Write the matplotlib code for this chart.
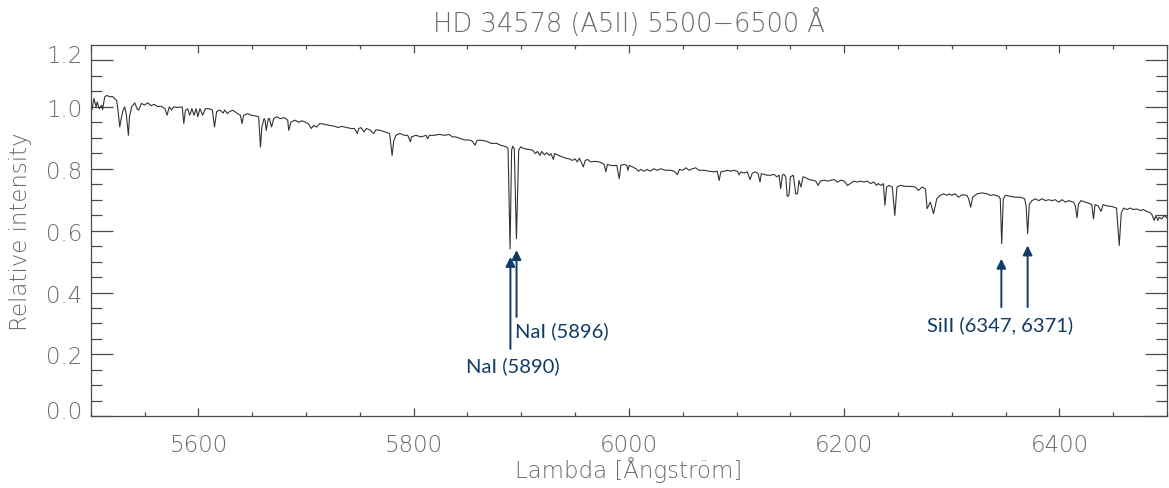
import matplotlib.pyplot as plt
from matplotlib.ticker import FixedLocator, MultipleLocator
from matplotlib.transforms import ScaledTranslation

# HD 34578 spectrum, wavelength in Angstrom and normalised intensity
wavelength = [
    5500, 5501, 5503, 5505, 5506, 5508, 5510, 5511, 5513, 5515, 5518, 5520, 5522, 5524, 5525,
    5527, 5528, 5530, 5531.5, 5533, 5535, 5536, 5538, 5541, 5543, 5544.5, 5547, 5550, 5553, 5556,
    5559, 5562, 5565.5, 5569, 5571, 5573, 5575, 5577, 5581, 5585, 5586.5, 5588, 5590, 5592, 5594,
    5596, 5598, 5599.5, 5601.5, 5604, 5606.5, 5610, 5613, 5615, 5617, 5620, 5623, 5624.5, 5627, 5629,
    5632, 5636.5, 5639, 5640.6, 5642, 5646, 5649, 5654, 5656, 5657.7, 5659, 5661, 5662, 5663, 5665,
    5666, 5668, 5670, 5672.7, 5676, 5680, 5683, 5684, 5686, 5690, 5693, 5696, 5699, 5702, 5705,
    5707, 5710, 5712.7, 5717, 5722, 5727, 5730, 5733, 5738, 5742, 5745, 5747.7, 5749, 5751, 5754,
    5756, 5759, 5763, 5765, 5769, 5773.5, 5777.7, 5780, 5781.5, 5783.5, 5787, 5791.5, 5794.5, 5797, 5798,
    5802, 5807, 5811.5, 5813, 5814.6, 5819, 5824, 5828.5, 5833, 5836, 5839, 5844, 5847, 5851.5, 5854.6,
    5857, 5859, 5863, 5867.5, 5872, 5877, 5881, 5886, 5887.7, 5889.6, 5891, 5892, 5893.5, 5895.5, 5897.6,
    5899.5, 5902.5, 5906, 5910.5, 5913, 5915, 5917.4, 5919, 5921.5, 5923.6, 5926, 5927.6, 5929.8, 5931, 5934.6,
    5938.3, 5941.4, 5944.5, 5947.5, 5950, 5952, 5954, 5957.6, 5959.5, 5961.6, 5964.7, 5968, 5972.5, 5975.6, 5977,
    5978.6, 5980, 5983, 5986, 5988.7, 5991, 5992.5, 5995.6, 5998, 5999, 6000.3, 6003.4, 6006.5, 6009, 6011,
    6014, 6017, 6020, 6023, 6026.4, 6029.5, 6034, 6039, 6042, 6045, 6047, 6050, 6053, 6056, 6059,
    6062, 6065, 6070, 6074.5, 6079, 6082, 6083.8, 6085.4, 6088.5, 6091.6, 6094.7, 6097.7, 6100.8, 6102.3, 6104,
    6107, 6110, 6112.5, 6114.7, 6117.8, 6120, 6121.8, 6123, 6125.5, 6128.6, 6131.7, 6134.8, 6137.3, 6139.5, 6141,
    6142.6, 6144, 6145.7, 6147, 6148.7, 6150, 6152.7, 6155, 6156.6, 6158, 6159.8, 6161.8, 6164.3, 6167.4, 6170.5,
    6173.6, 6175.8, 6177.7, 6181.4, 6184.5, 6187.6, 6190.7, 6193.8, 6196.9, 6200, 6203, 6205.5, 6209, 6212.2, 6215.3,
    6218.4, 6221.5, 6224.6, 6227.7, 6230, 6231.4, 6234.5, 6236.4, 6237.8, 6239.4, 6241.6, 6244.7, 6247, 6249, 6252,
    6257, 6261.6, 6266, 6269, 6272.4, 6275.5, 6277, 6280, 6283, 6286, 6289, 6292.4, 6295.5, 6297, 6300,
    6303, 6306.3, 6309.4, 6314, 6315.6, 6317.5, 6319.4, 6323.4, 6328, 6332.7, 6335.8, 6339, 6343.5, 6345, 6346.3,
    6347.8, 6349.7, 6354.3, 6359, 6363.6, 6367.6, 6369, 6370.4, 6372, 6374.5, 6377.6, 6380.7, 6383.8, 6386.9, 6390,
    6393, 6396, 6399.3, 6402.4, 6405.5, 6408.6, 6413, 6414.8, 6416.2, 6417.7, 6420, 6423.8, 6427, 6430, 6431.6,
    6433, 6436, 6438.6, 6440.5, 6444, 6448.5, 6453, 6455.5, 6457.4, 6459.6, 6462.6, 6465.7, 6468.8, 6471.9, 6475,
    6478, 6481, 6484, 6486, 6488, 6489.5, 6491.4, 6492.6, 6495, 6497.6, 6500,
]
intensity = [
    1.037, 0.989, 1.027, 1.000, 1.016, 0.994, 1.005, 0.991, 1.032, 1.037, 1.032, 1.034, 1.027, 1.021, 1.000,
    0.935, 0.957, 0.989, 1.000, 0.978, 0.908, 0.968, 1.000, 1.013, 0.994, 0.989, 1.011, 1.006, 1.013, 1.004,
    1.008, 1.001, 1.002, 0.994, 0.973, 1.000, 0.990, 1.000, 0.998, 1.000, 0.946, 0.989, 0.994, 0.973, 0.994,
    0.973, 0.994, 0.968, 0.994, 0.973, 0.994, 0.994, 0.990, 0.935, 0.985, 0.990, 0.980, 0.990, 0.978, 0.985,
    0.989, 0.978, 0.973, 0.946, 0.973, 0.978, 0.973, 0.970, 0.968, 0.870, 0.935, 0.962, 0.957, 0.924, 0.962,
    0.962, 0.935, 0.962, 0.968, 0.962, 0.965, 0.957, 0.924, 0.951, 0.957, 0.950, 0.955, 0.951, 0.946, 0.930,
    0.940, 0.935, 0.946, 0.944, 0.940, 0.937, 0.933, 0.937, 0.933, 0.930, 0.930, 0.914, 0.930, 0.933, 0.919,
    0.930, 0.926, 0.914, 0.926, 0.924, 0.919, 0.914, 0.843, 0.890, 0.908, 0.914, 0.908, 0.908, 0.887, 0.903,
    0.908, 0.903, 0.908, 0.897, 0.908, 0.908, 0.911, 0.908, 0.911, 0.903, 0.903, 0.897, 0.893, 0.893, 0.889,
    0.876, 0.892, 0.892, 0.889, 0.882, 0.882, 0.876, 0.871, 0.865, 0.541, 0.860, 0.873, 0.865, 0.574, 0.860,
    0.871, 0.865, 0.863, 0.860, 0.849, 0.856, 0.843, 0.856, 0.845, 0.852, 0.843, 0.849, 0.830, 0.849, 0.843,
    0.838, 0.834, 0.832, 0.827, 0.832, 0.822, 0.834, 0.806, 0.827, 0.830, 0.822, 0.824, 0.822, 0.817, 0.814,
    0.790, 0.814, 0.811, 0.810, 0.811, 0.768, 0.811, 0.814, 0.811, 0.795, 0.811, 0.806, 0.800, 0.792, 0.798,
    0.792, 0.798, 0.792, 0.800, 0.795, 0.800, 0.795, 0.795, 0.792, 0.781, 0.798, 0.795, 0.803, 0.795, 0.800,
    0.803, 0.795, 0.795, 0.792, 0.790, 0.792, 0.762, 0.790, 0.792, 0.795, 0.792, 0.795, 0.792, 0.780, 0.790,
    0.786, 0.790, 0.765, 0.786, 0.790, 0.784, 0.757, 0.784, 0.782, 0.779, 0.779, 0.782, 0.774, 0.779, 0.736,
    0.779, 0.782, 0.774, 0.711, 0.714, 0.774, 0.779, 0.719, 0.719, 0.762, 0.741, 0.774, 0.771, 0.765, 0.763,
    0.760, 0.746, 0.760, 0.763, 0.760, 0.763, 0.765, 0.757, 0.763, 0.760, 0.746, 0.752, 0.760, 0.757, 0.760,
    0.757, 0.760, 0.752, 0.757, 0.746, 0.752, 0.746, 0.752, 0.682, 0.741, 0.746, 0.741, 0.649, 0.741, 0.746,
    0.743, 0.743, 0.741, 0.730, 0.741, 0.735, 0.671, 0.692, 0.655, 0.703, 0.714, 0.719, 0.714, 0.719, 0.714,
    0.719, 0.708, 0.716, 0.714, 0.703, 0.676, 0.708, 0.719, 0.722, 0.719, 0.714, 0.716, 0.711, 0.703, 0.558,
    0.703, 0.714, 0.711, 0.708, 0.708, 0.703, 0.680, 0.590, 0.686, 0.697, 0.703, 0.697, 0.703, 0.697, 0.700,
    0.697, 0.700, 0.692, 0.700, 0.692, 0.697, 0.692, 0.680, 0.641, 0.686, 0.697, 0.692, 0.689, 0.684, 0.638,
    0.684, 0.680, 0.662, 0.684, 0.680, 0.678, 0.673, 0.552, 0.657, 0.673, 0.668, 0.673, 0.668, 0.670, 0.665,
    0.668, 0.662, 0.659, 0.651, 0.633, 0.649, 0.633, 0.643, 0.638, 0.649, 0.641,
]

# axis ticks
ytick_values = [0.0, 0.2, 0.4, 0.6, 0.8, 1.0, 1.15]
ytick_labels = ['0.0', '0.2', '0.4', '0.6', '0.8', '1.0', '1.2']
ytick_minor = [0.05, 0.1, 0.15, 0.25, 0.3, 0.35, 0.45, 0.5, 0.55, 0.65, 0.7, 0.75,
               0.85, 0.9, 0.95, 1.05, 1.1]

# line identifications: arrow x, arrow tip y, arrow tail y
arrows = [
    (5889.9, 0.515, 0.218),
    (5895.6, 0.537, 0.321),
    (6346.0, 0.509, 0.353),
    (6370.4, 0.552, 0.353),
]
labels = [
    ('NaI (5896)', 5894.5, 0.279, 'left'),
    ('NaI (5890)', 5892.5, 0.166, 'center'),
    ('SiII (6347, 6371)', 6344.6, 0.299, 'center'),
]

grey = '#6a6a6a'
axis_col = '#4a4a4a'
navy = '#0f3b66'

plt.rcParams['font.family'] = ['DejaVu Sans']
plt.rcParams['font.weight'] = 'light'
plt.rcParams['axes.titleweight'] = 'light'
plt.rcParams['axes.labelweight'] = 'light'

fig = plt.figure(figsize=(11.69, 4.89), dpi=100)
ax = fig.add_axes([0.0776, 0.1466, 0.9208, 0.7594])

ax.plot(wavelength, intensity, color='#333333', lw=0.8)

for x, tip, tail in arrows:
    ax.annotate('', xy=(x, tip), xytext=(x, tail),
                arrowprops=dict(arrowstyle='-|>', color=navy, lw=1.4,
                                mutation_scale=14, shrinkA=0, shrinkB=0))
for text, x, y, ha in labels:
    ax.text(x, y, text, color=navy, fontsize=14.5, ha=ha, va='center',
            family=['Lato', 'DejaVu Sans'], fontweight='normal')

ax.set_xlim(5500, 6500)
ax.set_ylim(0, 1.2)
ax.xaxis.set_major_locator(FixedLocator([5600, 5800, 6000, 6200, 6400]))
ax.xaxis.set_minor_locator(MultipleLocator(50))
ax.yaxis.set_major_locator(FixedLocator(ytick_values))
ax.set_yticklabels(ytick_labels)
ax.yaxis.set_minor_locator(FixedLocator(ytick_minor))

ax.tick_params(which='both', direction='in', top=True, right=True,
               colors=axis_col, labelcolor=grey, labelsize=16.5, width=0.9)
ax.tick_params(axis='x', which='major', length=5.8, pad=12)
ax.tick_params(axis='x', which='minor', length=2.9)
ax.tick_params(axis='y', which='major', length=15.8, pad=6)
ax.tick_params(axis='y', which='minor', length=7.9)
for sp in ax.spines.values():
    sp.set_color(axis_col)
    sp.set_linewidth(0.9)

# lowest and highest y labels sit a little higher than their ticks
lift = ScaledTranslation(0, 5 / 72, fig.dpi_scale_trans)
yl = ax.get_yticklabels()
for lab in (yl[0], yl[-1]):
    lab.set_transform(lab.get_transform() + lift)

ax.set_xlabel('Lambda [Ångström]', fontsize=16.5, color=grey, labelpad=0)
ax.set_ylabel('Relative intensity', fontsize=16.5, color=grey, labelpad=10)
ax.set_title('HD 34578 (A5II) 5500\u22126500 Å', fontsize=18.5, color=grey, pad=10)

fig.savefig('out.png', dpi=100)
